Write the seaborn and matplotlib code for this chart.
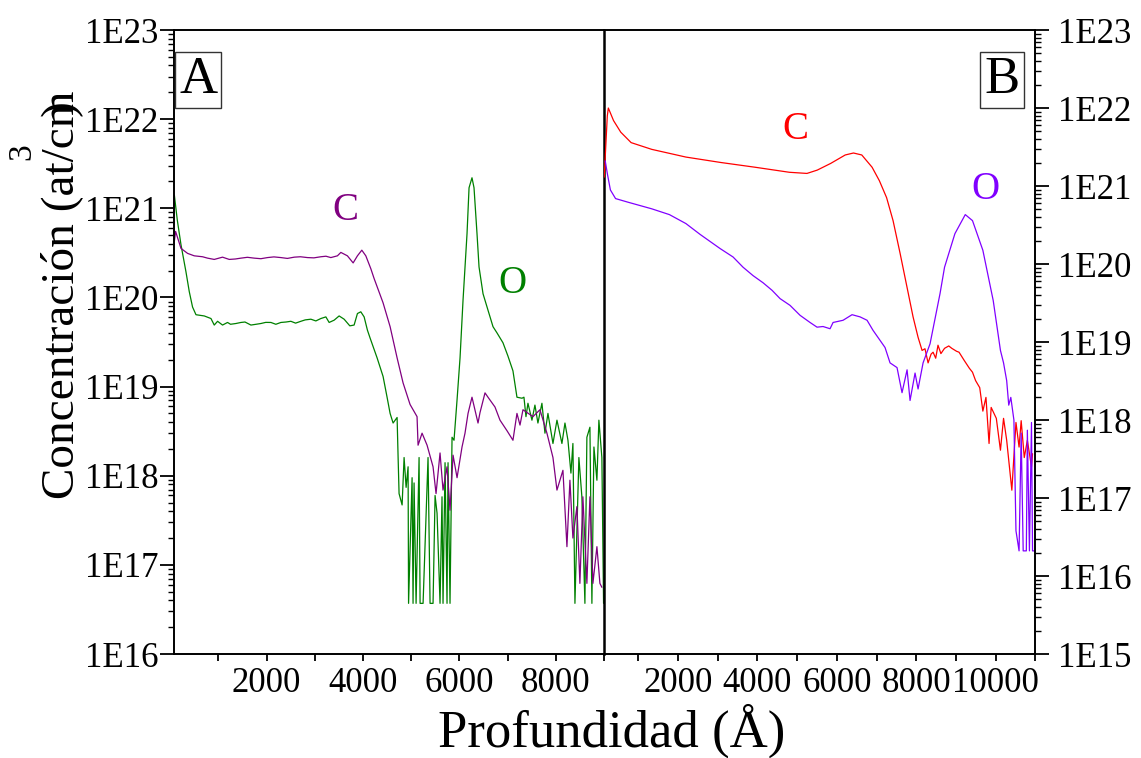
import numpy as np
import pandas as pd
import seaborn as sns
from matplotlib import pyplot as plt
from matplotlib.ticker import FixedLocator, FuncFormatter, MultipleLocator, LogLocator, NullFormatter

# ---- panel A (left): C and O profiles, depth in Angstrom, concentration at/cm3
xa_C = [85, 110, 145, 222, 359, 497, 670, 773, 912, 1084, 1223, 1350, 1466, 1600, 1741, 1880, 2017,
        2150, 2295, 2430, 2571, 2700, 2846, 2980, 3124, 3230, 3331, 3468, 3539, 3675, 3794, 3883,
        3974, 4057, 4161, 4229, 4415, 4561, 4706, 4830, 4975, 5120, 5141, 5224, 5328, 5452, 5514,
        5597, 5659, 5742, 5804, 5867, 5950, 6053, 6115, 6178, 6260, 6385, 6426, 6530, 6592, 6737,
        6841, 6986, 7110, 7193, 7256, 7318, 7525, 7670, 7815, 7940, 8023, 8147, 8230, 8292, 8354,
        8437, 8499, 8561, 8644, 8707, 8769, 8852, 8914, 8955]
ya_C = [4.3e20, 5.5e20, 4.8e20, 3.55e20, 3.12e20, 2.93e20, 2.86e20, 2.76e20, 2.67e20, 2.83e20,
        2.67e20, 2.7e20, 2.76e20, 2.82e20, 2.76e20, 2.72e20, 2.8e20, 2.85e20, 2.8e20, 2.74e20,
        2.83e20, 2.86e20, 2.8e20, 2.78e20, 2.86e20, 2.9e20, 2.8e20, 2.93e20, 3.2e20, 2.93e20,
        2.44e20, 2.93e20, 3.39e20, 2.93e20, 2.1e20, 1.63e20, 8.7e19, 4.7e19, 2.1e19, 1.1e19,
        6.3e18, 4.6e18, 2.2e18, 3.0e18, 2.2e18, 1.26e18, 6.3e17, 1.8e18, 6.9e17, 1.26e18, 4.1e17,
        1.7e18, 9.5e17, 2.1e18, 3.0e18, 5.0e18, 7.6e18, 3.9e18, 5.1e18, 8.5e18, 7.6e18, 5.9e18,
        4.2e18, 3.2e18, 2.5e18, 5.0e18, 3.7e18, 5.5e18, 4.6e18, 5.5e18, 3.0e18, 1.6e18, 6.9e17,
        1.15e18, 1.6e17, 8.9e17, 2.0e17, 4.5e17, 6.2e16, 5.8e17, 6.2e16, 5.8e17, 6.2e16, 1.6e17,
        6.2e16, 5.6e16]

xa_O = [85, 145, 222, 325, 394, 462, 533, 705, 844, 912, 981, 1084, 1188, 1250, 1362, 1466, 1550,
        1673, 1780, 1880, 1980, 2088, 2190, 2295, 2400, 2502, 2600, 2709, 2800, 2917, 3020, 3124,
        3228, 3296, 3400, 3503, 3607, 3725, 3814, 3883, 3953, 4022, 4090, 4146, 4291, 4415, 4498,
        4561, 4623, 4706, 4727, 4747, 4810, 4851, 4893, 4934, 4944, 5017, 5037, 5058, 5100, 5162,
        5183, 5245, 5348, 5390, 5452, 5494, 5535, 5597, 5638, 5659, 5701, 5742, 5763, 5804, 5846,
        5887, 5950, 6012, 6074, 6157, 6199, 6260, 6302, 6364, 6406, 6489, 6592, 6696, 6779, 6903,
        7006, 7110, 7193, 7297, 7338, 7380, 7421, 7504, 7566, 7628, 7711, 7774, 7836, 7940, 8023,
        8126, 8189, 8251, 8313, 8354, 8396, 8478, 8540, 8603, 8644, 8707, 8748, 8790, 8852, 8893,
        8955, 8990]
ya_O = [1.4e21, 7.4e20, 3.9e20, 1.94e20, 1.16e20, 7.8e19, 6.4e19, 6.2e19, 5.8e19, 4.9e19, 5.4e19,
        4.9e19, 5.24e19, 5.0e19, 5.1e19, 5.24e19, 5.3e19, 4.9e19, 5.0e19, 5.1e19, 5.25e19, 5.24e19,
        5.0e19, 5.24e19, 5.3e19, 5.4e19, 5.15e19, 5.4e19, 5.6e19, 5.7e19, 5.45e19, 5.8e19, 6.05e19,
        5.24e19, 5.56e19, 6.2e19, 5.7e19, 4.8e19, 4.9e19, 6.6e19, 6.9e19, 6.05e19, 4.3e19, 3.5e19,
        2.1e19, 1.3e19, 7.6e18, 5.0e18, 3.9e18, 4.5e18, 1.6e18, 6.3e17, 4.7e17, 1.6e18, 7.4e17,
        1.26e18, 3.7e16, 9.5e17, 3.7e16, 8.3e17, 3.7e16, 1.6e18, 3.7e16, 3.7e16, 1.6e18, 3.7e16,
        3.7e16, 6.0e17, 3.8e17, 3.7e16, 5.8e17, 3.7e16, 1.4e18, 3.7e16, 1.4e18, 3.7e16, 2.7e18,
        2.5e18, 7.1e18, 2.1e19, 9.3e19, 5.2e20, 1.7e21, 2.2e21, 1.7e21, 5.2e20, 2.2e20, 1.1e20,
        7.2e19, 4.7e19, 4.0e19, 3.1e19, 2.2e19, 1.5e19, 7.6e18, 7.4e18, 7.6e18, 4.6e18, 6.5e18,
        4.2e18, 6.2e18, 3.9e18, 6.5e18, 3.0e18, 5.0e18, 2.3e18, 4.2e18, 2.3e18, 3.9e18, 2.5e18,
        1.07e18, 2.3e18, 3.7e16, 1.6e18, 5.8e17, 3.7e16, 2.7e18, 3.5e18, 3.7e16, 2.1e18, 8.9e17,
        4.2e18, 1.6e18, 3.7e16]

# ---- panel B (right)
xb_C = [140, 218, 244, 375, 557, 818, 1338, 2198, 3084, 3943, 4804, 5247, 5507, 5846, 6211, 6419,
        6628, 6888, 7071, 7253, 7416, 7592, 7769, 7920, 8046, 8147, 8220, 8298, 8374, 8424, 8490,
        8548, 8621, 8713, 8819, 8895, 9017, 9078, 9209, 9339, 9417, 9495, 9599, 9678, 9756, 9834,
        9887, 10017, 10121, 10199, 10278, 10408, 10512, 10590, 10643, 10721, 10799, 10903, 10929]
yb_C = [1.3e21, 7.9e21, 1.0e22, 6.9e21, 4.9e21, 3.6e21, 2.95e21, 2.35e21, 2.0e21, 1.74e21, 1.5e21,
        1.45e21, 1.6e21, 1.95e21, 2.5e21, 2.65e21, 2.5e21, 1.74e21, 1.17e21, 7.1e20, 3.6e20,
        1.38e20, 5.0e19, 2.1e19, 1.15e19, 7.8e18, 8.2e18, 5.4e18, 7.0e18, 7.4e18, 6.2e18, 9.1e18,
        7.1e18, 8.3e18, 8.9e18, 8.3e18, 7.6e18, 7.4e18, 5.8e18, 4.6e18, 4.1e18, 3.2e18, 2.6e18,
        1.3e18, 1.95e18, 5.0e17, 1.45e18, 1.05e18, 4.1e17, 1.05e18, 5.5e17, 1.26e17, 9.3e17,
        4.5e17, 9.8e17, 3.3e17, 5.5e17, 2.5e17, 3.7e17]

xb_O = [166, 218, 296, 426, 740, 1338, 1782, 2198, 2554, 3058, 3386, 3637, 3889, 4141, 4368, 4570,
        4821, 5073, 5325, 5501, 5652, 5829, 5905, 6157, 6383, 6585, 6761, 6912, 7088, 7214, 7340,
        7516, 7642, 7769, 7844, 7970, 8046, 8172, 8348, 8600, 8713, 8974, 9235, 9417, 9678, 9939,
        10121, 10199, 10278, 10330, 10382, 10460, 10512, 10590, 10643, 10694, 10773, 10799, 10851,
        10903, 10929, 11000]
yb_O = [2.1e21, 1.45e21, 8.9e20, 6.9e20, 6.2e20, 5.1e20, 4.3e20, 3.3e20, 2.4e20, 1.58e20, 1.23e20,
        9.1e19, 7.1e19, 5.75e19, 4.6e19, 3.6e19, 2.95e19, 2.2e19, 1.78e19, 1.55e19, 1.58e19,
        1.48e19, 1.78e19, 1.9e19, 2.24e19, 2.1e19, 1.9e19, 1.41e19, 1.05e19, 8.5e18, 5.4e18,
        4.7e18, 2.24e18, 4.4e18, 1.78e18, 4.0e18, 2.5e18, 5.4e18, 9.5e18, 4.2e19, 9.1e19, 2.45e20,
        4.3e20, 3.6e20, 1.5e20, 3.4e19, 7.8e18, 5.4e18, 3.2e18, 1.55e18, 1.95e18, 1.0e18, 3.8e16,
        2.1e16, 6.8e17, 2.1e16, 2.1e16, 7.4e17, 2.1e16, 9.3e17, 2.1e16, 2.1e16]

sns.set_style("ticks")
plt.rcParams['font.family'] = ['Liberation Serif', 'DejaVu Serif']
plt.rcParams.update({'text.color': 'black', 'axes.labelcolor': 'black',
                     'xtick.color': 'black', 'ytick.color': 'black', 'axes.edgecolor': 'black'})

fig = plt.figure(figsize=(11.41, 7.58), dpi=100)
ax1 = fig.add_axes([0.1525, 0.1372, 0.3769, 0.8232])
ax2 = fig.add_axes([0.5294, 0.1372, 0.3780, 0.8232])
ax2.patch.set_visible(False)  # so the shared middle line from panel A stays visible

dfA_C = pd.DataFrame({'x': xa_C, 'y': ya_C})
dfA_O = pd.DataFrame({'x': xa_O, 'y': ya_O})
dfB_C = pd.DataFrame({'x': xb_C, 'y': yb_C})
dfB_O = pd.DataFrame({'x': xb_O, 'y': yb_O})

sns.lineplot(data=dfA_O, x='x', y='y', color='#008000', lw=0.9, sort=False, estimator=None, ax=ax1)
sns.lineplot(data=dfA_C, x='x', y='y', color='#800080', lw=0.9, sort=False, estimator=None, ax=ax1)
sns.lineplot(data=dfB_C, x='x', y='y', color='#ff0000', lw=0.9, sort=False, estimator=None, ax=ax2)
sns.lineplot(data=dfB_O, x='x', y='y', color='#8000ff', lw=0.9, sort=False, estimator=None, ax=ax2)

fmt = FuncFormatter(lambda v, p: "1E%d" % int(round(np.log10(v))))

for ax in (ax1, ax2):
    ax.set_yscale('log')
    ax.set_xlabel('')
    ax.set_ylabel('')
    ax.yaxis.set_major_formatter(fmt)
    ax.yaxis.set_minor_locator(LogLocator(base=10, subs=np.arange(2, 10)))
    ax.yaxis.set_minor_formatter(NullFormatter())
    ax.xaxis.set_minor_locator(MultipleLocator(1000))
    for s in ax.spines.values():
        s.set_linewidth(1.4)
        s.set_color('black')
    ax.tick_params(axis='x', which='both', direction='out', length=5, width=1.3, labelsize=25, pad=4)
    ax.tick_params(axis='y', which='major', direction='out', length=10, width=1.3, labelsize=25)
    ax.tick_params(axis='y', which='minor', direction='out', length=4.5, width=1.0)

ax1.set_xlim(77, 9000)
ax1.set_ylim(1e16, 1e23)
ax1.set_xticks([2000, 4000, 6000, 8000])
ax1.yaxis.set_major_locator(FixedLocator([10.0**k for k in range(16, 24)]))
ax1.tick_params(axis='y', pad=1)
ax1.spines['right'].set_linewidth(1.8)

ax2.set_xlim(136, 11000)
ax2.set_ylim(1e15, 1e23)
ax2.set_xticks([2000, 4000, 6000, 8000, 10000])
ax2.yaxis.set_major_locator(FixedLocator([10.0**k for k in range(15, 24)]))
ax2.yaxis.tick_right()
ax2.spines['left'].set_visible(False)
ax2.tick_params(axis='y', which='both', left=False, right=True, pad=6)

# panel letters
box = dict(boxstyle='square,pad=0.08', fc='white', ec='#333333', lw=1)
ax1.text(0.056, 0.92, "A", transform=ax1.transAxes, ha='center', va='center', fontsize=38, bbox=box)
ax2.text(0.923, 0.92, "B", transform=ax2.transAxes, ha='center', va='center', fontsize=38, bbox=box)

# element labels
ax1.text(3628, 9.5e20, "C", color='#800080', fontsize=28, ha='center', va='center')
ax1.text(7090, 1.45e20, "O", color='#008000', fontsize=28, ha='center', va='center')
ax2.text(4947, 5.3e21, "C", color='#ff0000', fontsize=28, ha='center', va='center')
ax2.text(9733, 9.1e20, "O", color='#8000ff', fontsize=28, ha='center', va='center')

# axis titles
fig.text(0.536, 0.015, "Profundidad (Å)", ha='center', va='baseline', fontsize=38)
fig.text(0.054, 0.611, "Concentración (at/cm", rotation=90, ha='center', va='center', fontsize=34)
fig.text(0.054, 0.8575, ")", rotation=90, ha='center', va='center', fontsize=34)
fig.text(0.019, 0.80, "3", rotation=90, ha='center', va='center', fontsize=24)

fig.savefig('out.png', dpi=100)
